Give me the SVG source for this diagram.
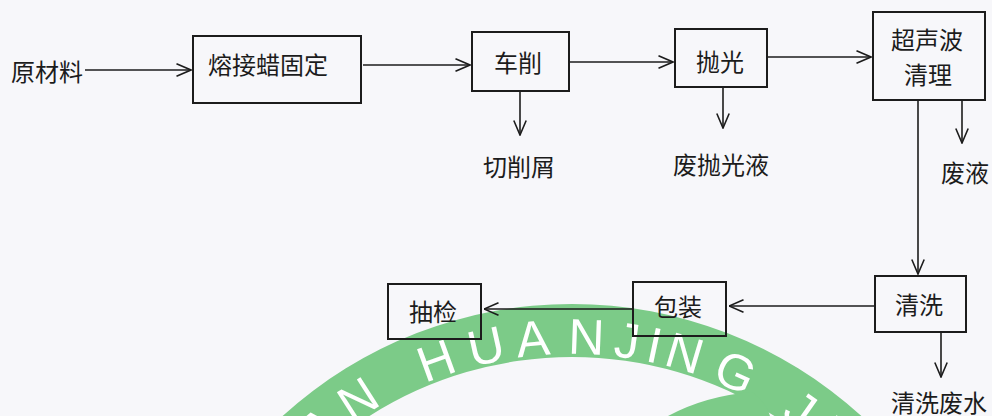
<svg xmlns="http://www.w3.org/2000/svg" width="992" height="416" viewBox="0 0 992 416">
  <style>
    .box { fill: none; stroke: #1c1c1c; stroke-width: 2; }
    .lbl { font-family: "Noto Sans CJK SC", "Noto Sans", sans-serif; font-size: 24px; fill: #1c1c1c; }
    .c { text-anchor: middle; }
    .edge { fill: none; stroke: #1c1c1c; stroke-width: 1.6; }
    .wm { font-family: "Liberation Sans", Arial, sans-serif; font-size: 50px; fill: #ffffff; text-anchor: middle; }
  </style>
  <defs>
    <marker id="arr" viewBox="0 0 16 14" refX="15.5" refY="7" markerWidth="16" markerHeight="14" markerUnits="userSpaceOnUse" orient="auto">
      <path d="M1,0.8 L15.5,7 L1,13.2" fill="none" stroke="#1c1c1c" stroke-width="1.6"/>
    </marker>
  </defs>
  <rect x="0" y="0" width="992" height="416" fill="#f7f7fa"/>

  <g id="watermark">
    <path d="M 282.6 416 A 430 430 0 0 1 861.4 416 L 774.5 416 A 377 377 0 0 0 369.5 416 Z" fill="#7ccb88"/>
    <path d="M 668 416 Q 705 396 752 392 Q 766 402 770 416 Z" fill="#7ccb88"/>
    <text class="wm" x="572" y="354" transform="rotate(-39.5 572 734)">A</text>
    <text class="wm" x="572" y="354" transform="rotate(-32.6 572 734)">N</text>
    <text class="wm" x="572" y="354" transform="rotate(-20 572 734)">H</text>
    <text class="wm" x="572" y="354" transform="rotate(-12.5 572 734)">U</text>
    <text class="wm" x="572" y="354" transform="rotate(-5.7 572 734)">A</text>
    <text class="wm" x="572" y="354" transform="rotate(2.1 572 734)">N</text>
    <text class="wm" x="572" y="354" transform="rotate(8 572 734)">J</text>
    <text class="wm" x="572" y="354" transform="rotate(12 572 734)">I</text>
    <text class="wm" x="572" y="354" transform="rotate(16.5 572 734)">N</text>
    <text class="wm" x="572" y="354" transform="rotate(24.3 572 734)">G</text>
    <text class="wm" x="572" y="354" transform="rotate(35.1 572 734)">J</text>
    <text class="wm" x="572" y="354" transform="rotate(40 572 734)">I</text>
  </g>

  <g id="connectors">
    <line class="edge" x1="85" y1="70" x2="191" y2="70" marker-end="url(#arr)"/>
    <line class="edge" x1="363" y1="65" x2="470" y2="65" marker-end="url(#arr)"/>
    <line class="edge" x1="569" y1="62" x2="673" y2="62" marker-end="url(#arr)"/>
    <line class="edge" x1="767" y1="57" x2="871" y2="57" marker-end="url(#arr)"/>
    <line class="edge" x1="520" y1="91" x2="520" y2="135" marker-end="url(#arr)"/>
    <line class="edge" x1="723" y1="87" x2="723" y2="128" marker-end="url(#arr)"/>
    <line class="edge" x1="962" y1="100" x2="962" y2="143" marker-end="url(#arr)"/>
    <line class="edge" x1="918" y1="100" x2="918" y2="274" marker-end="url(#arr)"/>
    <line class="edge" x1="941" y1="332" x2="941" y2="377" marker-end="url(#arr)"/>
    <line class="edge" x1="875" y1="306" x2="729" y2="306" marker-end="url(#arr)"/>
    <line class="edge" x1="633" y1="309" x2="484" y2="309" marker-end="url(#arr)"/>
  </g>

  <g id="raw">
    <text class="lbl" x="11" y="81">原材料</text>
  </g>
  <g id="fix">
    <rect class="box" x="193" y="36" width="168" height="67"/>
    <text class="lbl" x="208" y="74">熔接蜡固定</text>
  </g>
  <g id="turning">
    <rect class="box" x="472" y="32" width="97" height="59"/>
    <text class="lbl c" x="518" y="72">车削</text>
  </g>
  <g id="chips">
    <text class="lbl c" x="519" y="176">切削屑</text>
  </g>
  <g id="polish">
    <rect class="box" x="675" y="29" width="92" height="58"/>
    <text class="lbl c" x="720" y="71">抛光</text>
  </g>
  <g id="polish-waste">
    <text class="lbl c" x="721" y="174">废抛光液</text>
  </g>
  <g id="ultrasonic">
    <rect class="box" x="873" y="12" width="112" height="88"/>
    <text class="lbl c" x="927" y="49">超声波</text>
    <text class="lbl c" x="928" y="84">清理</text>
  </g>
  <g id="waste-liquid">
    <text class="lbl c" x="965" y="182">废液</text>
  </g>
  <g id="wash">
    <rect class="box" x="875" y="276" width="91" height="56"/>
    <text class="lbl c" x="919" y="314">清洗</text>
  </g>
  <g id="wash-water">
    <text class="lbl c" x="939" y="412">清洗废水</text>
  </g>
  <g id="pack">
    <rect class="box" x="633" y="282" width="93" height="54"/>
    <text class="lbl c" x="678" y="316">包装</text>
  </g>
  <g id="inspect">
    <rect class="box" x="388" y="284" width="93" height="55"/>
    <text class="lbl c" x="433" y="321">抽检</text>
  </g>
</svg>
